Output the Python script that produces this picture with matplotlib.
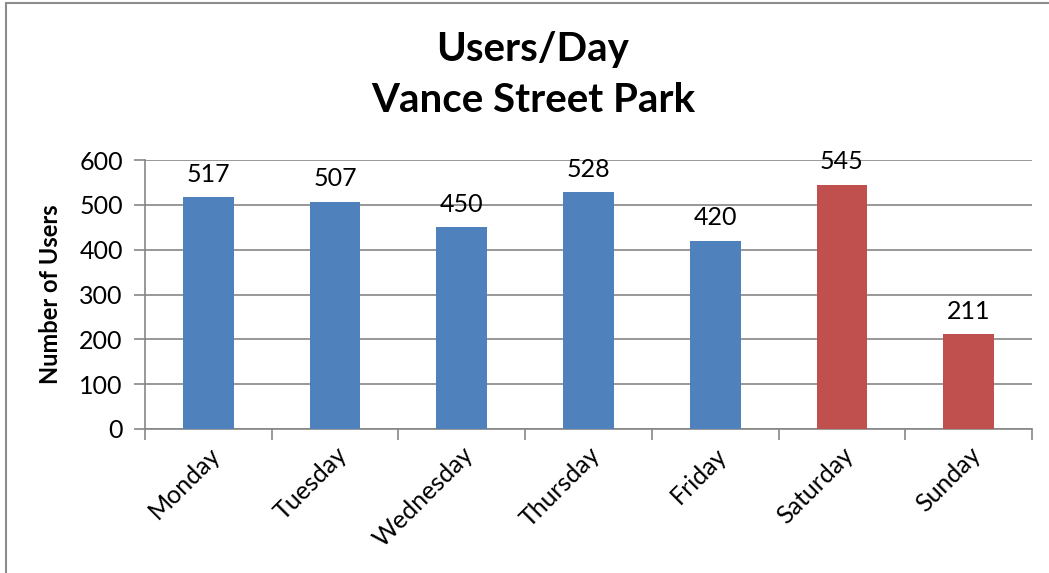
import matplotlib
matplotlib.use("Agg")
import matplotlib.pyplot as plt
from matplotlib.patches import Rectangle
import numpy as np

days = ["Monday", "Tuesday", "Wednesday", "Thursday", "Friday", "Saturday", "Sunday"]
users = [517, 507, 450, 528, 420, 545, 211]
colors = ["#4F81BD"] * 5 + ["#C0504D"] * 2
yticks = [0, 100, 200, 300, 400, 500, 600]

plt.rcParams['font.family'] = ['Lato', 'DejaVu Sans']
grid_col = "#868686"

fig = plt.figure(figsize=(10.49, 5.73), dpi=100)
ax = fig.add_axes([145 / 1049, 1 - 429 / 573, (1032 - 145) / 1049, (429 - 160) / 573])

# chart frame
fig.patches.append(Rectangle((6 / 1049, -0.1), 1.2, 1 - 3 / 573 + 0.1,
                             transform=fig.transFigure, fill=False,
                             edgecolor="#8c8c8c", linewidth=1.5))

x = np.arange(len(days))
ax.bar(x, users, width=0.4, color=colors, zorder=3)
for xi, v in zip(x, users):
    ax.text(xi, v + 26, str(v), ha="center", va="bottom", fontsize=18)

ax.set_xlim(-0.5, len(days) - 0.5)
ax.set_ylim(0, 600)
ax.set_yticks(yticks)
ax.tick_params(axis="y", labelsize=18, length=8, color=grid_col, width=1.2, pad=8)
ax.yaxis.grid(True, color=grid_col, linewidth=1.2, zorder=0)
ax.set_axisbelow(True)

ax.set_xticks(x)
ax.set_xticklabels(days, rotation=45, ha="right", va="top", rotation_mode="anchor", fontsize=18)
ax.tick_params(axis="x", length=0, pad=10)
ax.set_xticks(np.arange(-0.5, len(days)), minor=True)
ax.tick_params(axis="x", which="minor", length=8, color=grid_col, width=1.2)

for s in ["top", "right"]:
    ax.spines[s].set_visible(False)
for s in ["left", "bottom"]:
    ax.spines[s].set_color(grid_col)
    ax.spines[s].set_linewidth(1.2)

ax.set_ylabel("Number of Users", fontsize=17, fontweight="bold", labelpad=12)

fig.text(533 / 1049, 1 - 50 / 573, "Users/Day", ha="center", va="center",
         fontsize=29, fontweight="bold")
fig.text(533 / 1049, 1 - 101 / 573, "Vance Street Park", ha="center", va="center",
         fontsize=29, fontweight="bold")

fig.savefig("out.png", dpi=100)
